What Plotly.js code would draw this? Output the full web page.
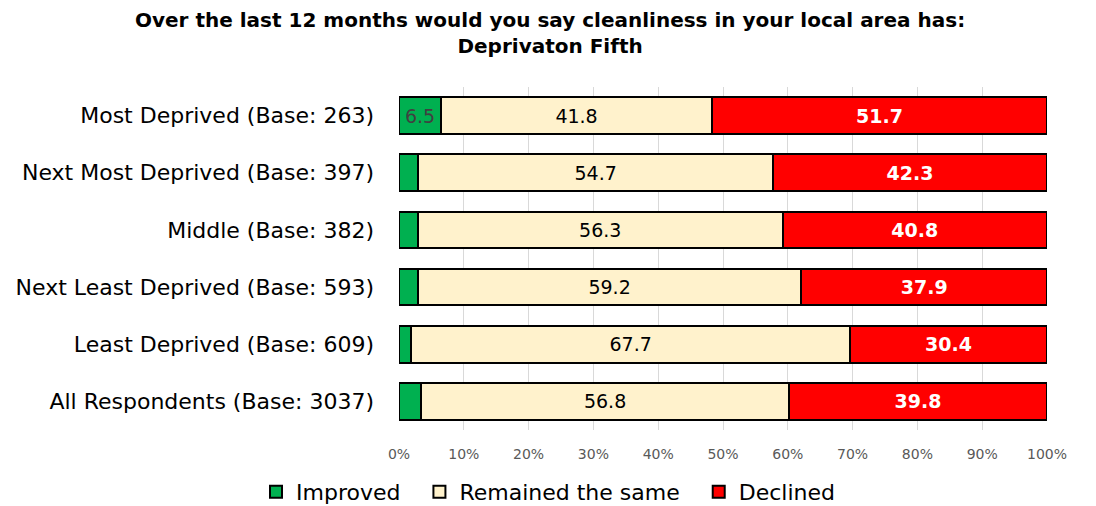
<!DOCTYPE html>
<html><head><meta charset="utf-8">
<script src="https://cdn.plot.ly/plotly-3.0.1.min.js"></script>
<style>body{margin:0;background:#fff}#c{width:1096px;height:506px}</style>
</head><body><div id="c"></div>
<script>
const categories = ["Most Deprived (Base: 263)","Next Most Deprived (Base: 397)","Middle (Base: 382)","Next Least Deprived (Base: 593)","Least Deprived (Base: 609)","All Respondents (Base: 3037)"];
const improved = [6.5, 3.0, 2.9, 2.9, 1.9, 3.4];
const improvedLabels = ["6.5", "", "", "", "", ""];
const remained = [41.8, 54.7, 56.3, 59.2, 67.7, 56.8];
const declined = [51.7, 42.3, 40.8, 37.9, 30.4, 39.8];
const seriesNames = ["Improved", "Remained the same", "Declined"];
const tickVals = [0,10,20,30,40,50,60,70,80,90,100];
const tickText = tickVals.map(v => v + "%");
const titleText = "<b>Over the last 12 months would you say cleanliness in your local area has:<br>Deprivaton Fifth</b>";

const F = "DejaVu Sans";
const pad = "\u00a0\u00a0";
const line = {color:"#000", width:2};
const traces = [
  {type:"bar", orientation:"h", name:seriesNames[0] + pad, y:categories, x:improved, text:improvedLabels,
   textposition:"inside", insidetextanchor:"middle", textfont:{color:"#404040", size:19, family:F},
   marker:{color:"#00b050", line:line}, constraintext:"none"},
  {type:"bar", orientation:"h", name:seriesNames[1] + pad, y:categories, x:remained, text:remained.map(v=>v.toFixed(1)),
   textposition:"inside", insidetextanchor:"middle", textfont:{color:"#000", size:19, family:F},
   marker:{color:"#fff2cc", line:line}},
  {type:"bar", orientation:"h", name:seriesNames[2], y:categories, x:declined, text:declined.map(v=>"<b>"+v.toFixed(1)+"</b>"),
   textposition:"inside", insidetextanchor:"middle", textfont:{color:"#fff", size:19, family:F},
   marker:{color:"#ff0000", line:line}}
];
const layout = {
  width:1096, height:506, barmode:"stack", bargap:0.36,
  paper_bgcolor:"#fff", plot_bgcolor:"#fff",
  margin:{l:399, r:49, t:87, b:76},
  font:{family:F, color:"#000"},
  annotations:[{text:titleText, xref:"paper", yref:"paper", x:(550-399)/(1047-399), y:(430-33)/343,
    xanchor:"center", yanchor:"middle", showarrow:false, align:"center", font:{size:20, color:"#000", family:F}}],
  xaxis:{range:[0,100], tickvals:tickVals, ticktext:tickText, showgrid:true, gridcolor:"#d9d9d9", gridwidth:1,
    zeroline:false, ticks:"", ticklabelstandoff:14, tickfont:{size:14, color:"#595959"}, fixedrange:true},
  yaxis:{autorange:"reversed", tickfont:{size:22, color:"#000"}, ticks:"", ticklabelstandoff:24, showgrid:false, automargin:false},
  legend:{orientation:"h", x:(548-399)/(1047-399), xanchor:"center", yref:"container", y:0.028, yanchor:"middle",
    font:{size:22, color:"#000"}, traceorder:"normal", itemwidth:30},
  showlegend:true
};
Plotly.newPlot("c", traces, layout, {displayModeBar:false, staticPlot:true});
</script></body></html>
